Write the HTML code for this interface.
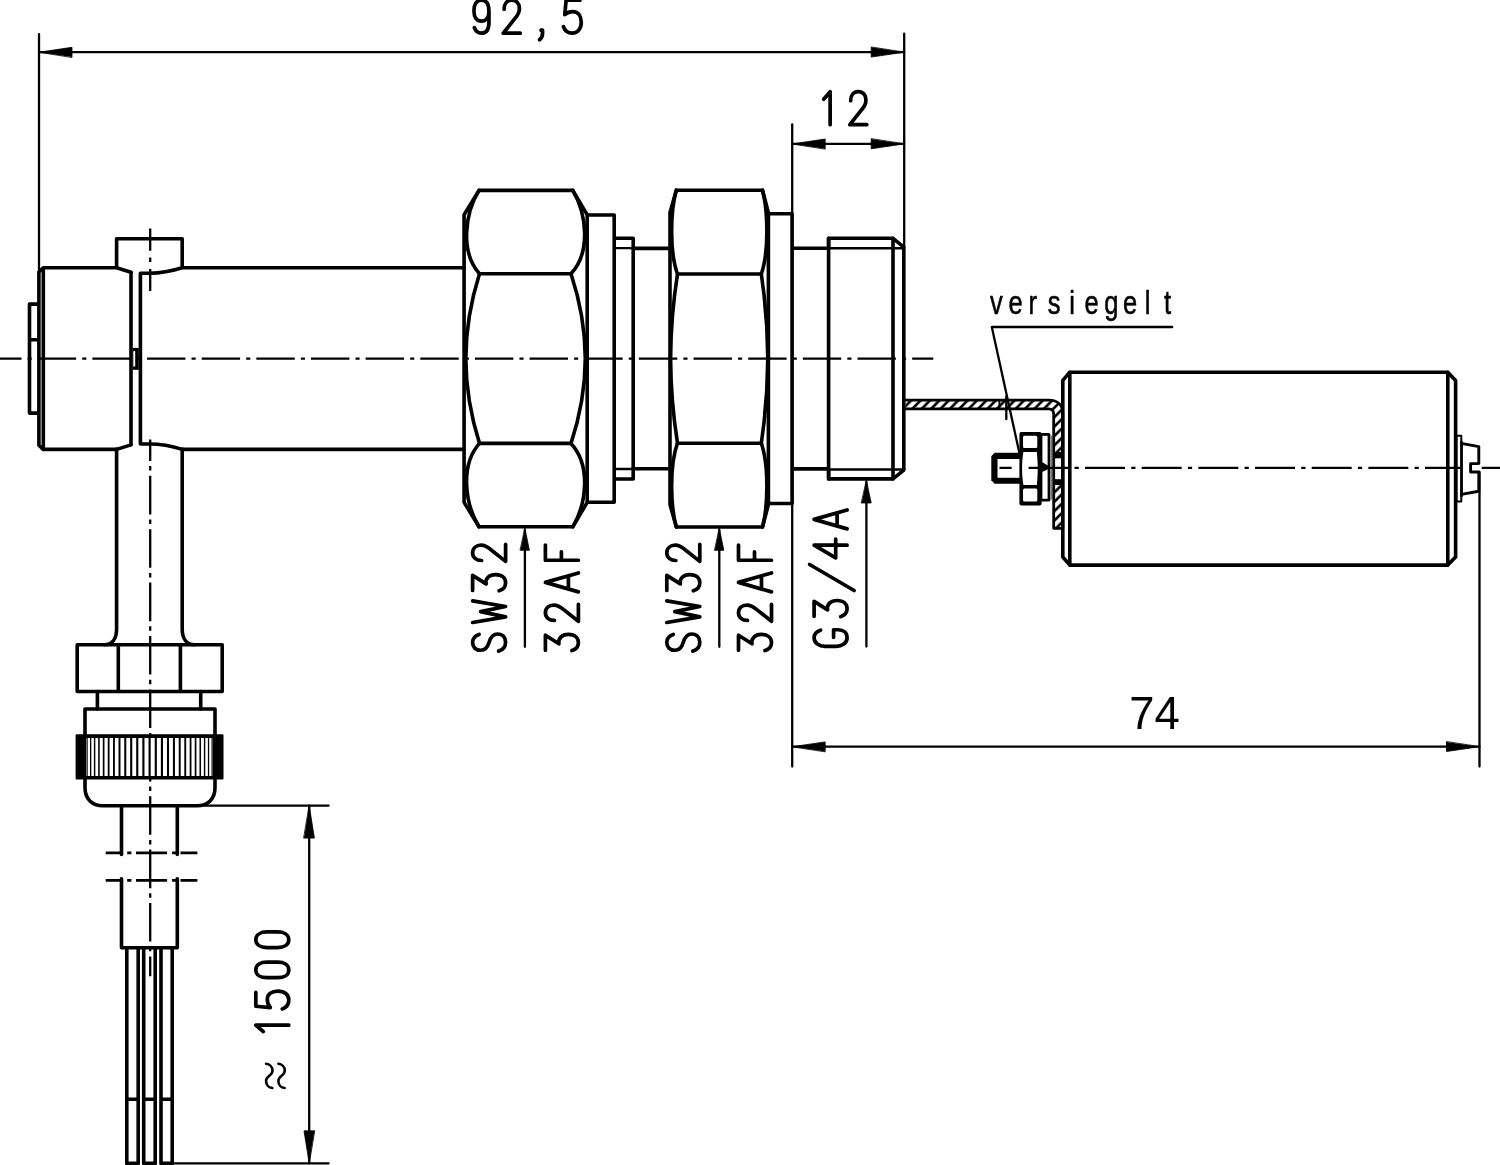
<!DOCTYPE html>
<html lang="en"><head><meta charset="utf-8"><title>Drawing</title>
<style>html,body{margin:0;padding:0;background:#fff;}body{width:1500px;height:1165px;overflow:hidden;font-family:"Liberation Sans",sans-serif;}svg{display:block;}</style>
</head><body>
<svg width="1500" height="1165" viewBox="0 0 1500 1165" fill="none" stroke="#000" stroke-linecap="round" stroke-linejoin="round">
<rect x="0" y="0" width="1500" height="1165" fill="#fff" stroke="none"/>
<line x1="-16.9" y1="358.6" x2="933.3" y2="358.6" stroke-width="2.3" stroke-dasharray="38.4 6.1 4.1 6.05" stroke-linecap="butt"/>
<path d="M150.2,228.6 V250.7 M150.2,257.4 V261.9 M150.2,269.1 V291.1" stroke-width="2.3" stroke-linecap="butt"/>
<line x1="150.2" y1="422.4" x2="150.2" y2="976.3" stroke-width="2.3" stroke-dasharray="38.6 5.1 4.5 5.2" stroke-linecap="butt" clip-path="url(#cv)"/>
<clipPath id="cv"><rect x="140" y="439.6" width="20" height="540"/></clipPath>
<line x1="39.00" y1="34.10" x2="39.00" y2="270.00" stroke-width="2.3" />
<line x1="904.20" y1="33.70" x2="904.20" y2="247.00" stroke-width="2.3" />
<line x1="39.00" y1="52.20" x2="904.20" y2="52.20" stroke-width="2.3" />
<polygon points="39.00,52.20 72.00,47.30 72.00,57.10" fill="#000" stroke="#000" stroke-width="0.8" stroke-linejoin="round"/>
<polygon points="904.20,52.20 871.20,57.10 871.20,47.30" fill="#000" stroke="#000" stroke-width="0.8" stroke-linejoin="round"/>
<line x1="792.20" y1="124.40" x2="792.20" y2="766.50" stroke-width="2.3" />
<line x1="792.20" y1="143.90" x2="904.20" y2="143.90" stroke-width="2.3" />
<polygon points="792.20,143.90 825.20,139.00 825.20,148.80" fill="#000" stroke="#000" stroke-width="0.8" stroke-linejoin="round"/>
<polygon points="904.20,143.90 871.20,148.80 871.20,139.00" fill="#000" stroke="#000" stroke-width="0.8" stroke-linejoin="round"/>
<line x1="1479.50" y1="472.00" x2="1479.50" y2="766.50" stroke-width="2.3" />
<line x1="792.20" y1="746.70" x2="1479.50" y2="746.70" stroke-width="2.3" />
<polygon points="792.20,746.70 825.20,741.90 825.20,751.50" fill="#000" stroke="#000" stroke-width="0.8" stroke-linejoin="round"/>
<polygon points="1479.50,746.70 1446.50,751.50 1446.50,741.90" fill="#000" stroke="#000" stroke-width="0.8" stroke-linejoin="round"/>
<line x1="204.00" y1="805.60" x2="328.60" y2="805.60" stroke-width="2.3" />
<line x1="172.50" y1="1163.30" x2="328.60" y2="1163.30" stroke-width="2.3" />
<line x1="309.20" y1="805.60" x2="309.20" y2="1163.30" stroke-width="2.3" />
<polygon points="309.20,805.60 314.40,838.10 304.00,838.10" fill="#000" stroke="#000" stroke-width="0.8" stroke-linejoin="round"/>
<polygon points="309.20,1163.30 304.00,1130.80 314.40,1130.80" fill="#000" stroke="#000" stroke-width="0.8" stroke-linejoin="round"/>
<line x1="524.90" y1="530.00" x2="524.90" y2="646.80" stroke-width="2.3" />
<polygon points="524.90,528.30 529.40,550.30 520.40,550.30" fill="#000" stroke="#000" stroke-width="0.8" stroke-linejoin="round"/>
<line x1="719.30" y1="530.00" x2="719.30" y2="646.80" stroke-width="2.3" />
<polygon points="719.30,528.30 723.80,550.30 714.80,550.30" fill="#000" stroke="#000" stroke-width="0.8" stroke-linejoin="round"/>
<line x1="866.40" y1="482.00" x2="866.40" y2="646.50" stroke-width="2.3" />
<polygon points="866.40,480.50 871.20,503.00 861.60,503.00" fill="#000" stroke="#000" stroke-width="0.8" stroke-linejoin="round"/>
<path d="M38,304.1 H29.5 V413.1 H38 M29.5,339.7 H38" stroke-width="3.6" />
<path d="M131,272.3 L116.6,267.8 H43.2 L38.9,272 V445.2 L43.2,449.4 H116.6 L131,444.9" stroke-width="3.6" />
<line x1="43.30" y1="268.50" x2="43.30" y2="448.70" stroke-width="3.6" />
<line x1="131.00" y1="272.60" x2="131.00" y2="444.60" stroke-width="3.6" />
<path d="M464,267.8 H182.2 C172,271 160,273.2 150,273.2 H140.4 V444 H150 C160,444 172,446.2 182.2,449.4 H464" stroke-width="3.6" />
<path d="M116.6,267 V238.8 H182.2 V267" stroke-width="3.6" />
<rect x="132.6" y="347.9" width="6.2" height="21.9" fill="#000" stroke="none"/>
<rect x="133.3" y="351.1" width="1.9" height="15.4" fill="#fff" stroke="none"/>
<path d="M116.6,449 V629 C116.6,639 112,644.8 104,644.8 M182.2,449 V629 C182.2,639 186.8,644.8 194.8,644.8" stroke-width="3.6" />
<rect x="77.20" y="644.80" width="145.00" height="46.70" stroke-width="3.6" />
<line x1="118.30" y1="644.80" x2="118.30" y2="691.50" stroke-width="3.6" />
<line x1="180.40" y1="644.80" x2="180.40" y2="691.50" stroke-width="3.6" />
<line x1="97.40" y1="691.50" x2="97.40" y2="709.00" stroke-width="3.6" />
<line x1="200.70" y1="691.50" x2="200.70" y2="709.00" stroke-width="3.6" />
<path d="M85,736 V709 H215 V736" stroke-width="3.6" />
<g stroke="none" fill="#000">
<rect x="75.6" y="734.2" width="147.9" height="45.2" rx="1.2"/>
<rect x="86.2" y="738" width="126.6" height="38" fill="#fff"/>
<rect x="86.54" y="737" width="1.15" height="40"/>
<rect x="90.01" y="737" width="1.30" height="40"/>
<rect x="93.89" y="737" width="1.44" height="40"/>
<rect x="98.16" y="737" width="1.57" height="40"/>
<rect x="102.79" y="737" width="1.68" height="40"/>
<rect x="107.75" y="737" width="1.79" height="40"/>
<rect x="113.01" y="737" width="1.88" height="40"/>
<rect x="118.52" y="737" width="1.96" height="40"/>
<rect x="124.25" y="737" width="2.03" height="40"/>
<rect x="130.16" y="737" width="2.08" height="40"/>
<rect x="136.20" y="737" width="2.12" height="40"/>
<rect x="142.34" y="737" width="2.14" height="40"/>
<rect x="148.53" y="737" width="2.15" height="40"/>
<rect x="154.72" y="737" width="2.14" height="40"/>
<rect x="160.88" y="737" width="2.12" height="40"/>
<rect x="166.96" y="737" width="2.08" height="40"/>
<rect x="172.92" y="737" width="2.03" height="40"/>
<rect x="178.72" y="737" width="1.96" height="40"/>
<rect x="184.31" y="737" width="1.88" height="40"/>
<rect x="189.66" y="737" width="1.79" height="40"/>
<rect x="194.72" y="737" width="1.68" height="40"/>
<rect x="199.47" y="737" width="1.57" height="40"/>
<rect x="203.87" y="737" width="1.44" height="40"/>
<rect x="207.89" y="737" width="1.30" height="40"/>
<rect x="211.50" y="737" width="1.15" height="40"/>
</g>
<path d="M85,778 V787.5 C85,799 92,805.7 103,805.7 H197 C208,805.7 215,799 215,787.5 V778" stroke-width="3.6" />
<line x1="121.50" y1="805.70" x2="121.50" y2="854.50" stroke-width="3.6" />
<line x1="177.30" y1="805.70" x2="177.30" y2="854.50" stroke-width="3.6" />
<path d="M121.5,878.8 V947.7 H177.3 V878.8" stroke-width="3.6" />
<path d="M105.7,852.9 H121.5 M127.2,852.9 H131.4 M136,852.9 H167.1 M172.1,852.9 H175.9 M180.5,852.9 H197.4" stroke-width="2.5999999999999996" stroke-linecap="butt"/>
<path d="M105.7,880.4 H121.5 M127.2,880.4 H131.4 M136,880.4 H167.1 M172.1,880.4 H175.9 M180.5,880.4 H197.4" stroke-width="2.5999999999999996" stroke-linecap="butt"/>
<path d="M126.8,947.7 V1163.4 H138.2 V947.7 M126.8,1099.2 H138.2" stroke-width="3.6" />
<path d="M143.7,947.7 V1163.4 H155.2 V947.7 M143.7,1099.2 H155.2" stroke-width="3.6" />
<path d="M161,947.7 V1163.4 H172.2 V947.7 M161,1099.2 H172.2" stroke-width="3.6" />
<path d="M479,190.40 H572.8 L587.2,214.80 V502.40 L572.8,526.80 H479 L464.1,502.40 V214.80 Z" stroke-width="3.6" />
<line x1="479.50" y1="273.80" x2="571.00" y2="273.80" stroke-width="3.6" />
<line x1="479.50" y1="443.40" x2="571.00" y2="443.40" stroke-width="3.6" />
<path d="M479,190.40 C464.85,213.58 460.0,252.12 479.5,273.80" stroke-width="3.6" />
<path d="M572.8,190.40 C586.48,213.58 591.2,252.12 571,273.80" stroke-width="3.6" />
<path d="M479,526.80 C464.85,503.62 460.0,465.08 479.5,443.40" stroke-width="3.6" />
<path d="M572.8,526.80 C586.48,503.62 591.2,465.08 571,443.40" stroke-width="3.6" />
<path d="M479.5,273.80 Q466.0,316.20 465.8,358.6 Q466.0,401.00 479.5,443.40" stroke-width="3.6" />
<path d="M571,273.80 Q585.0999999999999,316.20 585.3,358.6 Q585.0999999999999,401.00 571,443.40" stroke-width="3.6" />
<path d="M588.5,215.00 H614.2 V502.20 H588.5" stroke-width="3.6" />
<path d="M615.5,238.20 H633.2 V479.00 H615.5" stroke-width="3.6" />
<line x1="615.50" y1="248.20" x2="632.00" y2="248.20" stroke-width="2.3" />
<line x1="615.50" y1="469.00" x2="632.00" y2="469.00" stroke-width="2.3" />
<line x1="633.20" y1="248.40" x2="669.60" y2="248.40" stroke-width="3.6" />
<line x1="633.20" y1="468.80" x2="669.60" y2="468.80" stroke-width="3.6" />
<path d="M676.3,190.20 H762.5 L768.4,212.60 V504.60 L762.5,527.00 H676.3 L670.0,504.60 V212.60 Z" stroke-width="3.6" />
<line x1="677.50" y1="274.00" x2="761.30" y2="274.00" stroke-width="3.6" />
<line x1="677.50" y1="443.20" x2="761.30" y2="443.20" stroke-width="3.6" />
<path d="M676.3,190.20 C670.32,211.48 669.5,252.21 677.5,274.00" stroke-width="3.6" />
<path d="M762.5,190.20 C768.11,211.48 768.9,252.21 761.3,274.00" stroke-width="3.6" />
<path d="M676.3,527.00 C670.32,505.72 669.5,464.99 677.5,443.20" stroke-width="3.6" />
<path d="M762.5,527.00 C768.11,505.72 768.9,464.99 761.3,443.20" stroke-width="3.6" />
<path d="M677.5,274.00 Q670.8000000000001,316.30 670.6,358.6 Q670.8000000000001,400.90 677.5,443.20" stroke-width="3.6" />
<path d="M761.3,274.00 Q767.5999999999999,316.30 767.8,358.6 Q767.5999999999999,400.90 761.3,443.20" stroke-width="3.6" />
<path d="M769.6,213.70 H792.1 V503.50 H769.6" stroke-width="3.6" />
<line x1="793.00" y1="248.30" x2="828.60" y2="248.30" stroke-width="3.6" />
<line x1="793.00" y1="468.90" x2="828.60" y2="468.90" stroke-width="3.6" />
<path d="M828.6,248.30 V238.30 H893 L903.8,247.10 V470.10 L893,478.90 H828.6 V468.90" stroke-width="3.6" />
<line x1="828.60" y1="238.30" x2="828.60" y2="478.90" stroke-width="3.6" />
<line x1="893.00" y1="238.30" x2="893.00" y2="478.90" stroke-width="3.6" />
<line x1="828.60" y1="248.30" x2="903.80" y2="248.30" stroke-width="2.5999999999999996" />
<line x1="828.60" y1="469.50" x2="903.80" y2="469.50" stroke-width="2.5999999999999996" />
<defs><pattern id="hat" width="9.4" height="9.4" patternUnits="userSpaceOnUse" patternTransform="translate(5.1,0)"><path d="M-2,11.4 L11.4,-2 M-2,2 L2,-2 M7.4,11.4 L11.4,7.4" stroke="#000" stroke-width="2.6"/></pattern></defs>
<path d="M905.4,400.2 H1049 C1057.5,400.2 1062.8,405.2 1062.8,413.6 V528.3 H1053.7 V414 C1053.7,410.6 1051.8,408.8 1048.6,408.8 H905.4 Z" fill="url(#hat)" stroke="none"/>
<rect x="1054.6" y="455" width="7" height="26.5" fill="#fff" stroke="none"/>
<path d="M905.4,400.2 H1049 C1057.5,400.2 1062.8,405.2 1062.8,413.6 V528.3 H1053.7 V414 C1053.7,410.6 1051.8,408.8 1048.6,408.8 H905.4" stroke-width="2.8" />
<rect x="1053.7" y="452" width="9" height="6.3" fill="#000" stroke="none"/>
<rect x="1053.7" y="479.2" width="9" height="5.8" fill="#000" stroke="none"/>
<line x1="999.40" y1="400.20" x2="999.40" y2="408.80" stroke-width="1.8" />
<line x1="1006.30" y1="396.50" x2="1006.30" y2="419.20" stroke-width="2.3" />
<path d="M1069.8,372.2 H1447.8 L1455.6,380.4 V557 L1447.8,565.1 H1069.8 L1062.8,557 V380.4 Z" stroke-width="3.6" />
<line x1="1069.80" y1="372.20" x2="1069.80" y2="565.10" stroke-width="3.6" />
<line x1="1447.80" y1="372.20" x2="1447.80" y2="565.10" stroke-width="3.6" />
<rect x="1456.50" y="435.80" width="4.80" height="65.60" stroke-width="2.0" />
<path d="M1461.3,443.3 L1478.8,446.6 V463.6 H1470.6 V472 H1478.8 V491.2 L1461.3,494.4" stroke-width="2.9" />
<line x1="1461.60" y1="441.80" x2="1461.60" y2="496.00" stroke-width="2.6" />
<path d="M1020.5,452.8 H994.6 L991.3,456.2 V480.3 L994.6,483.7 H1020.5 Z" fill="#000" stroke="none"/>
<rect x="997.5" y="459" width="23" height="18.8" fill="#fff" stroke="none"/>
<rect x="1019.4" y="431.9" width="22.2" height="73.6" rx="2" fill="#000" stroke="none"/>
<rect x="1023" y="435.7" width="14.3" height="12.4" rx="1.5" fill="#fff" stroke="none"/>
<rect x="1023" y="488.6" width="14.3" height="12.8" rx="1.5" fill="#fff" stroke="none"/>
<path d="M1023.4,452 H1036.8 C1038,462 1038,475 1036.8,485 H1023.4 C1021.6,475 1021.6,462 1023.4,452 Z" fill="#fff" stroke="none"/>
<rect x="1040" y="432.9" width="10.4" height="68.7" rx="1.5" fill="#000" stroke="none"/>
<rect x="1042.4" y="435.8" width="5.2" height="63" fill="#fff" stroke="none"/>
<path d="M1041,461.5 L1049.5,466.5 V468.5 L1041,472.5 Z" fill="#000" stroke="none"/>
<line x1="1051.40" y1="436.00" x2="1051.40" y2="499.00" stroke-width="1.2" stroke="#777"/>
<clipPath id="cf"><rect x="999.5" y="440" width="13.1" height="60"/><rect x="1028.3" y="440" width="433.5" height="60"/><rect x="1479.5" y="440" width="30" height="60"/></clipPath>
<line x1="971.67" y1="467.8" x2="1500" y2="467.8" stroke-width="2.3" stroke-dasharray="40 6.2 4.25 6.22" stroke-linecap="butt" clip-path="url(#cf)"/>
<line x1="992.50" y1="327.00" x2="1172.20" y2="327.00" stroke-width="2.4" />
<line x1="991.80" y1="327.00" x2="1019.60" y2="454.00" stroke-width="2.3" />
<g style="opacity:0.999">
<text x="1154.5" y="729.2" font-size="45.4" text-anchor="middle" fill="#000" stroke="none" font-family="'Liberation Sans', sans-serif">74</text>
<text transform="scale(0.76,1)" x="1302.58 1327.06 1353.36 1378.74 1406.90 1426.93 1452.87 1477.72 1506.22 1531.53" y="313.9" font-size="33.6" fill="#000" stroke="#000" stroke-width="0.6" stroke-linejoin="round" font-family="'Liberation Sans', sans-serif">versiegelt</text>
</g>
<g role="img" aria-label="92,5" transform="translate(471.45,33.20) rotate(0)" fill="none" stroke="#000" stroke-width="3.7" stroke-linecap="round" stroke-linejoin="round"><title>92,5</title>
<path transform="translate(0.00,-33)" d="M 17.51 11.00 C 17.51 17.00 14.74 21.00 10.00 21.00 C 5.26 21.00 2.49 17.00 2.49 10.50 C 2.49 4.00 5.26 0.00 10.00 0.00 C 14.74 0.00 17.51 4.00 17.51 11.00 L 17.51 22.00 C 17.51 29.00 14.74 33.00 10.00 33.00 C 6.45 33.00 4.07 31.00 2.89 27.50"/>
<path transform="translate(30.30,-33)" d="M 2.35 9.00 C 2.35 3.50 5.33 0.00 10.00 0.00 C 14.68 0.00 17.65 3.50 17.65 8.50 C 17.65 12.50 15.95 15.00 13.40 18.00 L 1.50 33.00 L 18.50 33.00"/>
<path transform="translate(60.60,-33)" d="M 9.00 30.00 L 10.50 30.00 L 10.50 33.00 C 10.50 36.00 9.50 38.00 7.50 39.50"/>
<path transform="translate(90.90,-33)" d="M 17.57 0.00 L 3.77 0.00 L 2.43 14.50 C 4.66 12.50 7.33 11.50 10.45 11.50 C 15.79 11.50 18.90 16.00 18.90 22.00 C 18.90 28.50 15.34 33.00 10.00 33.00 C 5.55 33.00 2.43 30.50 1.10 26.50"/>
</g>
<g role="img" aria-label="12" transform="translate(818.60,124.70) rotate(0)" fill="none" stroke="#000" stroke-width="3.7" stroke-linecap="round" stroke-linejoin="round"><title>12</title>
<path transform="translate(-1.70,-33)" d="M 6.75 7.50 L 13.25 0.00 L 13.25 33.00"/>
<path transform="translate(29.70,-33)" d="M 2.35 9.00 C 2.35 3.50 5.33 0.00 10.00 0.00 C 14.68 0.00 17.65 3.50 17.65 8.50 C 17.65 12.50 15.95 15.00 13.40 18.00 L 1.50 33.00 L 18.50 33.00"/>
</g>
<g role="img" aria-label="SW32" transform="translate(505.60,700.00) rotate(-90)" fill="none" stroke="#000" stroke-width="3.7" stroke-linecap="round" stroke-linejoin="round"><title>SW32</title>
<path transform="translate(47.65,-33)" d="M 17.92 6.50 C 16.60 2.50 13.96 0.00 10.00 0.00 C 5.16 0.00 2.08 3.00 2.08 8.00 C 2.08 12.50 4.72 15.00 10.00 16.50 C 15.28 18.00 18.36 20.50 18.36 25.00 C 18.36 30.00 14.84 33.00 10.00 33.00 C 5.60 33.00 2.52 30.50 1.20 26.00"/>
<path transform="translate(78.35,-33)" d="M -0.81 0.00 L 4.81 33.00 L 10.00 8.00 L 15.19 33.00 L 20.81 0.00"/>
<path transform="translate(107.30,-33)" d="M 2.31 0.00 L 17.29 0.00 L 8.79 13.50 C 14.05 12.50 18.10 16.50 18.10 23.00 C 18.10 29.50 14.46 33.00 10.00 33.00 C 5.95 33.00 3.12 30.50 1.90 26.50"/>
<path transform="translate(137.15,-33)" d="M 2.35 9.00 C 2.35 3.50 5.33 0.00 10.00 0.00 C 14.68 0.00 17.65 3.50 17.65 8.50 C 17.65 12.50 15.95 15.00 13.40 18.00 L 1.50 33.00 L 18.50 33.00"/>
</g>
<g role="img" aria-label="32AF" transform="translate(578.40,700.00) rotate(-90)" fill="none" stroke="#000" stroke-width="3.7" stroke-linecap="round" stroke-linejoin="round"><title>32AF</title>
<path transform="translate(47.50,-33)" d="M 2.31 0.00 L 17.29 0.00 L 8.79 13.50 C 14.05 12.50 18.10 16.50 18.10 23.00 C 18.10 29.50 14.46 33.00 10.00 33.00 C 5.95 33.00 3.12 30.50 1.90 26.50"/>
<path transform="translate(77.25,-33)" d="M 2.35 9.00 C 2.35 3.50 5.33 0.00 10.00 0.00 C 14.68 0.00 17.65 3.50 17.65 8.50 C 17.65 12.50 15.95 15.00 13.40 18.00 L 1.50 33.00 L 18.50 33.00"/>
<path transform="translate(107.60,-33)" d="M 0.54 33.00 L 10.00 0.00 L 19.46 33.00 M 3.81 23.00 L 16.19 23.00"/>
<path transform="translate(137.35,-33)" d="M 2.40 33.00 L 2.40 0.00 L 17.60 0.00 M 2.40 16.00 L 10.80 16.00"/>
</g>
<g role="img" aria-label="SW32" transform="translate(699.80,700.00) rotate(-90)" fill="none" stroke="#000" stroke-width="3.7" stroke-linecap="round" stroke-linejoin="round"><title>SW32</title>
<path transform="translate(47.65,-33)" d="M 17.92 6.50 C 16.60 2.50 13.96 0.00 10.00 0.00 C 5.16 0.00 2.08 3.00 2.08 8.00 C 2.08 12.50 4.72 15.00 10.00 16.50 C 15.28 18.00 18.36 20.50 18.36 25.00 C 18.36 30.00 14.84 33.00 10.00 33.00 C 5.60 33.00 2.52 30.50 1.20 26.00"/>
<path transform="translate(78.35,-33)" d="M -0.81 0.00 L 4.81 33.00 L 10.00 8.00 L 15.19 33.00 L 20.81 0.00"/>
<path transform="translate(107.30,-33)" d="M 2.31 0.00 L 17.29 0.00 L 8.79 13.50 C 14.05 12.50 18.10 16.50 18.10 23.00 C 18.10 29.50 14.46 33.00 10.00 33.00 C 5.95 33.00 3.12 30.50 1.90 26.50"/>
<path transform="translate(137.15,-33)" d="M 2.35 9.00 C 2.35 3.50 5.33 0.00 10.00 0.00 C 14.68 0.00 17.65 3.50 17.65 8.50 C 17.65 12.50 15.95 15.00 13.40 18.00 L 1.50 33.00 L 18.50 33.00"/>
</g>
<g role="img" aria-label="32AF" transform="translate(771.50,700.00) rotate(-90)" fill="none" stroke="#000" stroke-width="3.7" stroke-linecap="round" stroke-linejoin="round"><title>32AF</title>
<path transform="translate(47.50,-33)" d="M 2.31 0.00 L 17.29 0.00 L 8.79 13.50 C 14.05 12.50 18.10 16.50 18.10 23.00 C 18.10 29.50 14.46 33.00 10.00 33.00 C 5.95 33.00 3.12 30.50 1.90 26.50"/>
<path transform="translate(77.25,-33)" d="M 2.35 9.00 C 2.35 3.50 5.33 0.00 10.00 0.00 C 14.68 0.00 17.65 3.50 17.65 8.50 C 17.65 12.50 15.95 15.00 13.40 18.00 L 1.50 33.00 L 18.50 33.00"/>
<path transform="translate(107.60,-33)" d="M 0.54 33.00 L 10.00 0.00 L 19.46 33.00 M 3.81 23.00 L 16.19 23.00"/>
<path transform="translate(137.35,-33)" d="M 2.40 33.00 L 2.40 0.00 L 17.60 0.00 M 2.40 16.00 L 10.80 16.00"/>
</g>
<g role="img" aria-label="G3/4A" transform="translate(847.10,700.00) rotate(-90)" fill="none" stroke="#000" stroke-width="3.7" stroke-linecap="round" stroke-linejoin="round"><title>G3/4A</title>
<path transform="translate(52.20,-33)" d="M 17.65 6.50 C 16.38 2.50 13.82 0.00 10.00 0.00 C 4.48 0.00 1.50 5.00 1.50 11.00 L 1.50 22.00 C 1.50 28.00 4.48 33.00 10.00 33.00 C 15.10 33.00 18.07 29.50 18.07 24.00 L 18.07 19.50 L 10.43 19.50"/>
<path transform="translate(81.40,-33)" d="M 2.31 0.00 L 17.29 0.00 L 8.79 13.50 C 14.05 12.50 18.10 16.50 18.10 23.00 C 18.10 29.50 14.46 33.00 10.00 33.00 C 5.95 33.00 3.12 30.50 1.90 26.50"/>
<path transform="translate(112.50,-33)" d="M -3.00 40.00 L 23.00 -4.50"/>
<path transform="translate(141.50,-33)" d="M 13.35 33.00 L 13.35 0.00 L 0.70 21.60 L 19.30 21.60"/>
<path transform="translate(170.60,-33)" d="M 0.54 33.00 L 10.00 0.00 L 19.46 33.00 M 3.81 23.00 L 16.19 23.00"/>
</g>
<g role="img" aria-label="1500" transform="translate(288.80,700.00) rotate(-90)" fill="none" stroke="#000" stroke-width="3.7" stroke-linecap="round" stroke-linejoin="round"><title>1500</title>
<path transform="translate(-338.40,-33)" d="M 6.75 7.50 L 13.25 0.00 L 13.25 33.00"/>
<path transform="translate(-310.00,-33)" d="M 17.57 0.00 L 3.77 0.00 L 2.43 14.50 C 4.66 12.50 7.33 11.50 10.45 11.50 C 15.79 11.50 18.90 16.00 18.90 22.00 C 18.90 28.50 15.34 33.00 10.00 33.00 C 5.55 33.00 2.43 30.50 1.10 26.50"/>
<path transform="translate(-279.90,-33)" d="M 10.00 0.00 C 4.93 0.00 2.20 5.00 2.20 11.00 L 2.20 22.00 C 2.20 28.00 4.93 33.00 10.00 33.00 C 15.07 33.00 17.80 28.00 17.80 22.00 L 17.80 11.00 C 17.80 5.00 15.07 0.00 10.00 0.00 Z"/>
<path transform="translate(-249.75,-33)" d="M 10.00 0.00 C 4.93 0.00 2.20 5.00 2.20 11.00 L 2.20 22.00 C 2.20 28.00 4.93 33.00 10.00 33.00 C 15.07 33.00 17.80 28.00 17.80 22.00 L 17.80 11.00 C 17.80 5.00 15.07 0.00 10.00 0.00 Z"/>
</g>
<path d="M272.32,1087.98 C268.88,1087.77 266.09,1085.19 266.09,1080.90 266.09,1075.75 272.53,1075.75 272.53,1070.60 272.53,1066.74 269.31,1064.16 266.09,1063.73" stroke-width="2.6" stroke-linecap="round" fill="none"/>
<path d="M284.62,1087.98 C281.18,1087.77 278.39,1085.19 278.39,1080.90 278.39,1075.75 284.83,1075.75 284.83,1070.60 284.83,1066.74 281.61,1064.16 278.39,1063.73" stroke-width="2.6" stroke-linecap="round" fill="none"/>
</svg></body></html>
